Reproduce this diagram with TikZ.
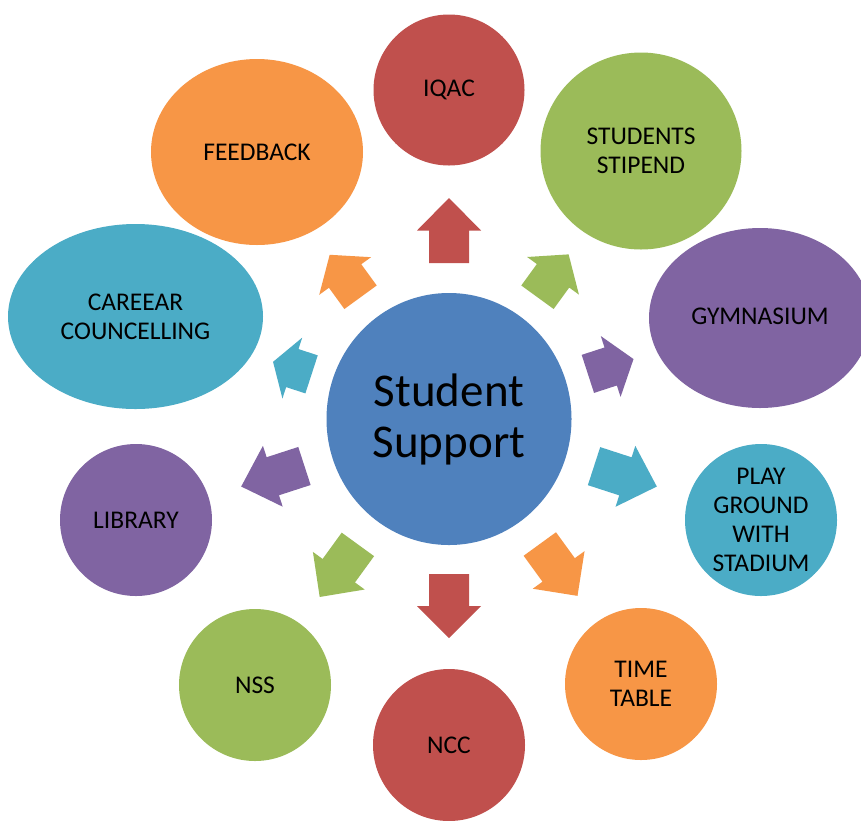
\documentclass[tikz,border=0pt]{standalone}
\usepackage{fontspec}
\setmainfont{Carlito}
\usetikzlibrary{shapes.geometric}
\definecolor{oblue}{HTML}{4F81BD}
\definecolor{ored}{HTML}{C0504D}
\definecolor{ogreen}{HTML}{9BBB59}
\definecolor{opurple}{HTML}{8064A2}
\definecolor{oteal}{HTML}{4BACC6}
\definecolor{oorange}{HTML}{F79646}
\newcommand\blkarrow[4]{%
  \begin{scope}[shift={(449,419)},rotate=#1]
    \pgfmathsetmacro\arrmid{#2+(#3-#2)*0.5}
    \fill[#4] (#2,-20) -- (\arrmid,-20) -- (\arrmid,-32) -- (#3,0) -- (\arrmid,32) -- (\arrmid,20) -- (#2,20) -- cycle;
  \end{scope}}
\tikzset{
  blob/.style={ellipse, inner sep=0pt, align=center, text=black,
    font=\fontsize{25.5}{29}\selectfont},
}
\begin{document}
\begin{tikzpicture}[x=1pt,y=-1pt]
\useasboundingbox (0,0) rectangle (861,820);
\fill[white] (0,0) rectangle (861,820);
% centre
\node[blob, fill=oblue, minimum width=245pt, minimum height=252pt,
  font=\fontsize{47}{51}\selectfont] (ctr) at (449,419) {Student\\Support};
% outer
\node[blob, fill=ored, minimum width=151pt, minimum height=151pt] (iqac) at (449,90) {IQAC};
\node[blob, fill=ogreen, minimum width=201pt, minimum height=197pt] (stip) at (641,151) {STUDENTS\\STIPEND};
\node[blob, fill=opurple, minimum width=222pt, minimum height=180pt] (gym) at (760,318) {};
\node at (760,316) [blob] {GYMNASIUM};
\node[blob, fill=oteal, minimum width=152pt, minimum height=152pt] (play) at (761,520) {PLAY\\GROUND\\WITH\\STADIUM};
\node[blob, fill=oorange, minimum width=152pt, minimum height=152pt] (time) at (641,684) {TIME\\TABLE};
\node[blob, fill=ored, minimum width=152pt, minimum height=152pt] (ncc) at (449,745) {NCC};
\node[blob, fill=ogreen, minimum width=152pt, minimum height=152pt] (nss) at (255,685) {NSS};
\node[blob, fill=opurple, minimum width=152pt, minimum height=152pt] (lib) at (136,520) {LIBRARY};
\node[blob, fill=oteal, minimum width=255pt, minimum height=185pt] (car) at (135.5,316.5) {CAREEAR\\COUNCELLING};
\node[blob, fill=oorange, minimum width=212pt, minimum height=186pt] (fb) at (257,152) {FEEDBACK};
% arrows
\blkarrow{90}{156}{221}{ored}
\blkarrow{54}{150.5}{203.5}{ogreen}
\blkarrow{18}{146}{194}{opurple}
\blkarrow{-18}{152.5}{218.5}{oteal}
\blkarrow{-54}{154.5}{218.6}{oorange}
\blkarrow{-90}{155}{219}{ored}
\blkarrow{-126}{155}{220}{ogreen}
\blkarrow{-162}{152}{218.5}{opurple}
\blkarrow{162}{144.5}{185}{oteal}
\blkarrow{126}{150.5}{203}{oorange}
\end{tikzpicture}
\end{document}
